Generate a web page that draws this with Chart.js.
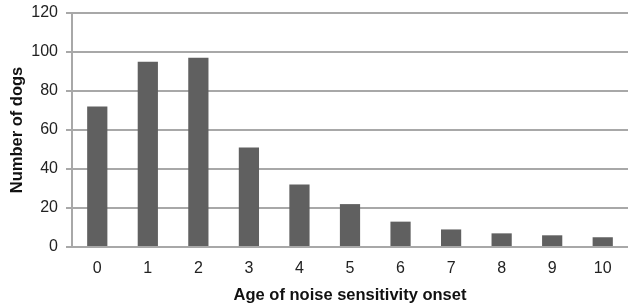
<!DOCTYPE html>
<html>
<head>
<meta charset="utf-8">
<script src="https://cdn.jsdelivr.net/npm/chart.js@4"></script>
<style>
  html, body { margin: 0; padding: 0; background: #fff; }
  #wrap { width: 628px; height: 307px; }
</style>
</head>
<body>
<div id="wrap"><canvas id="c" width="628" height="307"></canvas></div>
<script>
const ages = ['0', '1', '2', '3', '4', '5', '6', '7', '8', '9', '10'];
const dogs = [72, 95, 97, 51, 32, 22, 13, 9, 7, 6, 5];
const yTicks = [0, 20, 40, 60, 80, 100, 120];

const gridCol = '#a8a8a8';
const font = "'Liberation Sans', Arial, sans-serif";

new Chart(document.getElementById('c'), {
  type: 'bar',
  data: {
    labels: ages,
    datasets: [{
      data: dogs,
      backgroundColor: '#606060',
      borderWidth: 0,
      categoryPercentage: 0.8,
      barPercentage: 0.5
    }]
  },
  options: {
    responsive: false,
    animation: false,
    layout: { padding: { left: 8, right: 0, top: 13, bottom: 2 } },
    plugins: { legend: { display: false }, tooltip: { enabled: false } },
    scales: {
      x: {
        afterFit: s => { s.height = 58; },
        grid: { display: false, drawTicks: false },
        border: { color: gridCol, width: 2 },
        ticks: { color: '#222', font: { family: font, size: 16 }, padding: 12 },
        title: { display: true, text: 'Age of noise sensitivity onset', color: '#111',
                 font: { family: font, size: 16.5, weight: 'bold' }, padding: 0 }
      },
      y: {
        min: 0, max: 120,
        afterFit: s => { s.width = 64; s.paddingTop = 0; s.paddingBottom = 0; },
        afterBuildTicks: s => { s.ticks = yTicks.map(v => ({ value: v })); },
        grid: { color: gridCol, lineWidth: 2, tickLength: 6 },
        border: { color: gridCol, width: 2 },
        ticks: { color: '#222', font: { family: font, size: 16 }, padding: 8 },
        title: { display: true, text: 'Number of dogs', color: '#111',
                 font: { family: font, size: 16.5, weight: 'bold' }, padding: 0 }
      }
    }
  }
});
</script>
</body>
</html>
